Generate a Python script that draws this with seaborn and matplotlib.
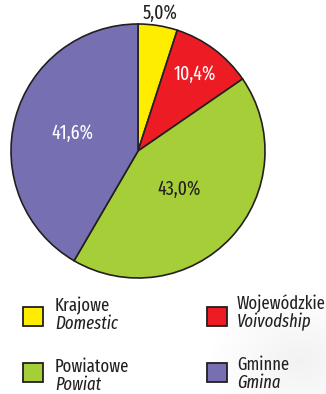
import matplotlib
matplotlib.use("Agg")
import matplotlib.pyplot as plt
from matplotlib.patches import Rectangle
from matplotlib import font_manager
import numpy as np
import seaborn as sns

# Shares of roads by administrative category (%)
categories_pl = ["Krajowe", "Wojewódzkie", "Powiatowe", "Gminne"]
categories_en = ["Domestic", "Voivodship", "Powiat", "Gmina"]
shares = [5.0, 10.4, 43.0, 41.6]
share_labels = ["5,0%", "10,4%", "43,0%", "41,6%"]

colors = sns.color_palette(["#FFED00", "#ED1C24", "#A6CE39", "#7670B3"])
label_colors = ["#231F20", "white", "#231F20", "white"]
label_radius = [1.10, 0.75, 0.44, 0.535]
edge = "#231F20"

sns.set_theme(style="white")
available = {f.name for f in font_manager.fontManager.ttflist}
family = next((f for f in ["Fira Sans Extra Condensed", "Fira Sans Condensed",
                           "Archivo Narrow"] if f in available), "DejaVu Sans")
plt.rcParams["font.family"] = [family, "DejaVu Sans"]

W, H = 326, 394
fig = plt.figure(figsize=(W / 100, H / 100), dpi=100)
fig.patch.set_facecolor("white")

# soft grey haze in the lower-right corner of the page background
yy, xx = np.mgrid[0:H, 0:W]
d = np.hypot((xx - 300) / 90.0, (yy - 360) / 70.0)
shade = 1.0 - 0.05 * np.clip(1.0 - d, 0, 1)
bg = np.dstack([shade, shade, np.clip(shade * 1.005, 0, 1)])
fig.figimage(bg, xo=0, yo=0, origin="upper", zorder=-10)

# pie axes: centre (138,151) px, radius 127 px
cx, cy, r = 138, 151, 127
ax = fig.add_axes([(cx - r) / W, (H - cy - r) / H, 2 * r / W, 2 * r / H])
ax.set_zorder(5)
ax.patch.set_alpha(0)
wedges, _ = ax.pie(shares, colors=colors, startangle=90, counterclock=False,
                   wedgeprops=dict(edgecolor=edge, linewidth=1.2))
ax.set_xlim(-1, 1)
ax.set_ylim(-1, 1)
ax.set_aspect("equal")
ax.axis("off")

for w, lab, c, rr in zip(wedges, share_labels, label_colors, label_radius):
    ang = np.deg2rad((w.theta1 + w.theta2) / 2)
    ax.text(rr * np.cos(ang), rr * np.sin(ang), lab, ha="center", va="center",
            fontsize=14, color=c, clip_on=False)

# legend: 2 x 2 grid of swatches with Polish / English names
def px(x, y):
    return x / W, 1 - y / H

swatch_x = [23, 207]
swatch_y = [307, 363]
text_x = [55, 237]
base1 = [311, 372]
order = [(0, 0), (0, 1), (1, 0), (1, 1)]  # (row, col) for each category
for i, (row, col) in enumerate(order):
    x0, y0 = px(swatch_x[col], swatch_y[row] + 19)
    fig.add_artist(Rectangle((x0, y0), 20 / W, 19 / H, transform=fig.transFigure,
                             facecolor=colors[i], edgecolor=edge, linewidth=1.3,
                             zorder=6))
    b = base1[row] - (2 if col == 1 else 0)
    fig.text(*px(text_x[col], b), categories_pl[i], fontsize=13, color=edge,
             ha="left", va="baseline", zorder=6)
    fig.text(*px(text_x[col], b + 18), categories_en[i], fontsize=13, color=edge,
             ha="left", va="baseline", style="italic", zorder=6)

fig.savefig("out.png", dpi=100)
